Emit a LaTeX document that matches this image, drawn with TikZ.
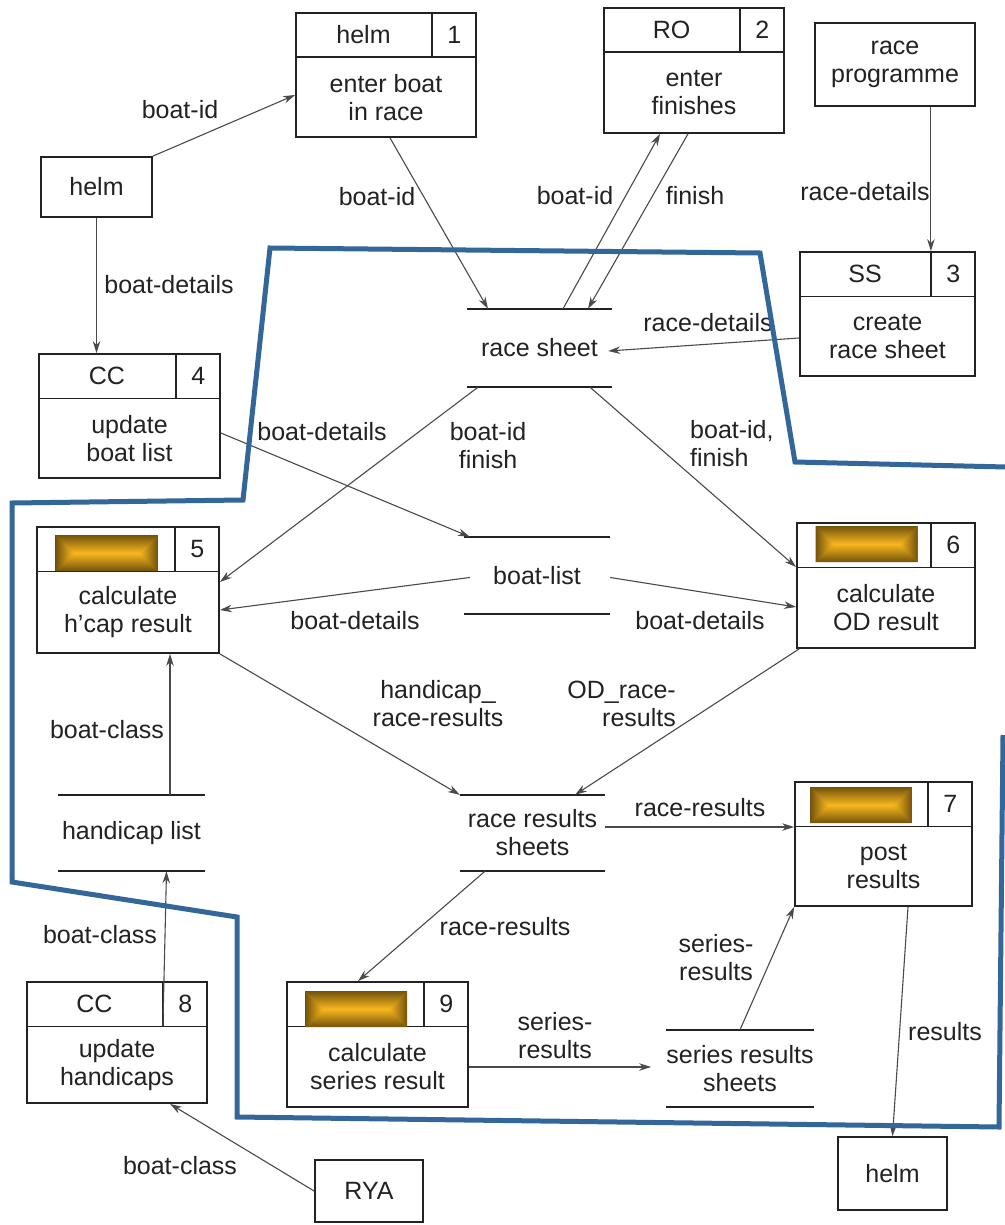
\documentclass[tikz,border=0pt]{standalone}
\usepackage{fontspec}
\setmainfont{Liberation Sans}
\usetikzlibrary{arrows.meta,calc}

\definecolor{ink}{HTML}{222222}
\definecolor{wire}{HTML}{4A4A4A}
\definecolor{bound}{HTML}{336699}
\definecolor{golddark}{HTML}{72520B}
\definecolor{goldlight}{HTML}{F8B71E}
\definecolor{goldmid}{HTML}{B8850F}

\tikzset{
  every node/.style={font=\fontsize{25}{28}\selectfont, text=ink},
  proc/.style={draw=ink, line width=1.8pt, rectangle, inner sep=0pt},
  ext/.style={draw=ink, line width=1.8pt, rectangle, inner sep=0pt, align=center},
  boxline/.style={draw=ink, line width=1.2pt},
  store/.style={rectangle, inner sep=0pt, align=center},
  storeline/.style={draw=ink, line width=2.4pt},
  flow/.style={draw=wire, line width=1.1pt, -{Stealth[length=12pt,width=7.5pt]}},
  lbl/.style={align=center, inner sep=0pt},
  boundary/.style={draw=bound, line width=5pt, line join=miter},
}

% process box: name, x, y, width, height, role, number, body
\newcommand{\procbox}[8]{%
  \node[proc, minimum width=#4pt, minimum height=#5pt] (#1) at (#2,#3) {};
  \coordinate (#1hl) at ([yshift=-45pt]#1.north west);
  \coordinate (#1hr) at ([yshift=-45pt]#1.north east);
  \coordinate (#1dt) at ([xshift=-45pt]#1.north east);
  \coordinate (#1db) at ([xshift=-45pt,yshift=-45pt]#1.north east);
  \draw[boxline] (#1hl) -- (#1hr);
  \draw[boxline] (#1dt) -- (#1db);
  \node[lbl] (#1role) at ($(#1.north west)!0.5!(#1db)$) {#6};
  \node[lbl] (#1num) at ($(#1dt)!0.5!(#1hr)$) {#7};
  \node[lbl] (#1body) at ($(#1hl)!0.5!(#1.south east)$) {#8};
}

% data store: name, x, y, width, height, text
\newcommand{\datastore}[6]{%
  \node[store, minimum width=#4pt, minimum height=#5pt] (#1) at (#2,#3) {#6};
  \draw[storeline] (#1.north west) -- (#1.north east);
  \draw[storeline] (#1.south west) -- (#1.south east);
}

% gold placeholder bar (102 x 36), bright ridge along its middle
\newcommand{\goldbar}[3]{%
  \coordinate (#1) at (#2,#3);
  \fill[goldmid] ($(#1)+(-51,-18)$) rectangle ($(#1)+(51,18)$);
  \shade[top color=golddark, bottom color=goldlight]
    ($(#1)+(-51,-18)$) -- ($(#1)+(51,-18)$) -- ($(#1)+(33,0)$) -- ($(#1)+(-33,0)$) -- cycle;
  \shade[top color=goldlight, bottom color=golddark]
    ($(#1)+(-51,18)$) -- ($(#1)+(51,18)$) -- ($(#1)+(33,0)$) -- ($(#1)+(-33,0)$) -- cycle;
  \shade[left color=golddark, right color=goldlight]
    ($(#1)+(-51,-18)$) -- ($(#1)+(-33,0)$) -- ($(#1)+(-51,18)$) -- cycle;
  \shade[left color=goldlight, right color=golddark]
    ($(#1)+(51,-18)$) -- ($(#1)+(33,0)$) -- ($(#1)+(51,18)$) -- cycle;
}

\begin{document}
\begin{tikzpicture}[x=1pt, y=-1pt]
\useasboundingbox[fill=white] (0,0) rectangle (1004,1225);

% processes
\procbox{p1}{386}{75}{180}{124}{helm}{1}{enter boat\\in race}
\procbox{p2}{694}{70.5}{180}{125}{RO}{2}{enter\\finishes}
\procbox{p3}{887.5}{314}{175}{124}{SS}{3}{create\\race sheet}
\procbox{p4}{129.5}{416}{181}{124}{CC}{4}{update\\boat list}
\procbox{p5}{128}{590}{182}{126}{}{5}{calculate\\h’cap result}
\procbox{p6}{886}{585.5}{178}{125}{}{6}{calculate\\OD result}
\procbox{p7}{883.5}{844}{177}{124}{}{7}{post\\results}
\procbox{p8}{117}{1042.5}{180}{121}{CC}{8}{update\\handicaps}
\procbox{p9}{377.5}{1044.5}{181}{125}{}{9}{calculate\\series result}

\goldbar{g5}{106.5}{553}
\goldbar{g6}{866.5}{544}
\goldbar{g7}{861}{805}
\goldbar{g9}{356}{1009}

% external entities
\node[ext, minimum width=111pt, minimum height=60pt] (helmA) at (96.5,187) {helm};
\node[ext, minimum width=160pt, minimum height=83pt] (prog) at (895,64.5) {race\\programme};
\node[ext, minimum width=108pt, minimum height=62pt] (rya) at (369,1191) {RYA};
\node[ext, minimum width=109pt, minimum height=73pt] (helmB) at (892.5,1173.5) {helm};

% data stores
\datastore{rsh}{539.5}{348}{145}{78}{race sheet}
\datastore{bl}{537}{575.5}{146}{77}{boat-list}
\datastore{hl}{131.5}{833}{147}{76}{handicap list}
\datastore{rrs}{532.5}{833}{145}{76}{race results\\sheets}
\datastore{srs}{740}{1068.5}{145}{77}{series results\\sheets}

% data flows
\draw[flow] (helmA.north east) -- ([yshift=-20pt]p1.west);
\draw[flow] (helmA.south) -- (helmA.south |- p4.north);
\draw[flow] ([xshift=4pt]p1.south) -- ([xshift=-51.5pt]rsh.north);
\draw[flow] ([xshift=23.5pt]rsh.north) -- ([xshift=-34pt]p2.south);
\draw[flow] ([xshift=-6pt]p2.south) -- ([xshift=48.5pt]rsh.north);
\draw[flow] (prog.south -| p3dt) -- (p3dt);
\draw[flow] ([yshift=-24pt]p3.west) -- ([xshift=-4pt,yshift=-3pt]rsh.east);
\draw[flow] ([xshift=-61.5pt]rsh.south) -- ([yshift=8pt]p5.east);
\draw[flow] ([xshift=50.5pt]rsh.south) -- ([yshift=18.5pt]p6.west);
\draw[flow] ([yshift=-17pt]p4.east) -- ([xshift=6pt]bl.north west);
\draw[flow] ([xshift=6pt,yshift=-2pt]bl.west) -- ([yshift=-20pt]p5.east);
\draw[flow] ([yshift=-2pt]bl.east) -- ([yshift=-21.5pt]p6.west);
\draw[flow] (p5.south east) -- (rrs.north west);
\draw[flow] ([xshift=3pt]p6.south west) -- ([xshift=42.5pt]rrs.north);
\draw[flow] ([yshift=6pt]rrs.east) -- ([yshift=6pt]rrs.east -| p7.west);
\draw[flow] ([xshift=38.5pt]hl.north) -- ([xshift=38.5pt]hl.north |- p5.south);
\draw[flow] (p8db) -- ([xshift=35pt]hl.south);
\draw[flow] ([xshift=-47.5pt]rrs.south) -- ([xshift=-19.5pt]p9.north);
\draw[flow] ([yshift=-22.5pt]p9.east) -- ([xshift=-15pt,yshift=1.5pt]srs.west);
\draw[flow] (srs.north) -- (p7.south west);
\draw[flow] ([xshift=24.5pt]p7.south) -- (helmB.north);
\draw[flow] (rya.west) -- ([xshift=53pt]p8.south);

% flow labels
\node[lbl] (l1) at (180,110) {boat-id};
\node[lbl] (l2) at (169,285) {boat-details};
\node[lbl] (l3) at (377,197) {boat-id};
\node[lbl] (l4) at (575,196) {boat-id};
\node[lbl] (l5) at (695,196) {finish};
\node[lbl] (l6) at (865,192) {race-details};
\node[lbl] (l7) at (708,323) {race-details};
\node[lbl] (l8) at (488,446) {boat-id\\finish};
\node[lbl, align=left, anchor=west] (l9) at (690,444) {boat-id,\\finish};
\node[lbl] (l10) at (322,432) {boat-details};
\node[lbl] (l11) at (355,621) {boat-details};
\node[lbl] (l12) at (700,621) {boat-details};
\node[lbl] (l13) at (438,704) {handicap\_\\race-results};
\node[lbl, align=right, anchor=east] (l14) at (676,704) {OD\_race-\\results};
\node[lbl] (l15) at (700,808) {race-results};
\node[lbl] (l16) at (107,730) {boat-class};
\node[lbl] (l17) at (100,935) {boat-class};
\node[lbl] (l18) at (505,927) {race-results};
\node[lbl] (l19) at (555,1036) {series-\\results};
\node[lbl] (l20) at (716,958) {series-\\results};
\node[lbl] (l21) at (945,1032) {results};
\node[lbl] (l22) at (180,1166) {boat-class};

% system boundary
\draw[boundary] (1006,467) -- (795,462) -- (760,253) -- (270,248) -- (243,500)
  -- (12,503) -- (12,882) -- (237,917) -- (237,1117) -- (999,1127) -- (1003,735);
\end{tikzpicture}
\end{document}
